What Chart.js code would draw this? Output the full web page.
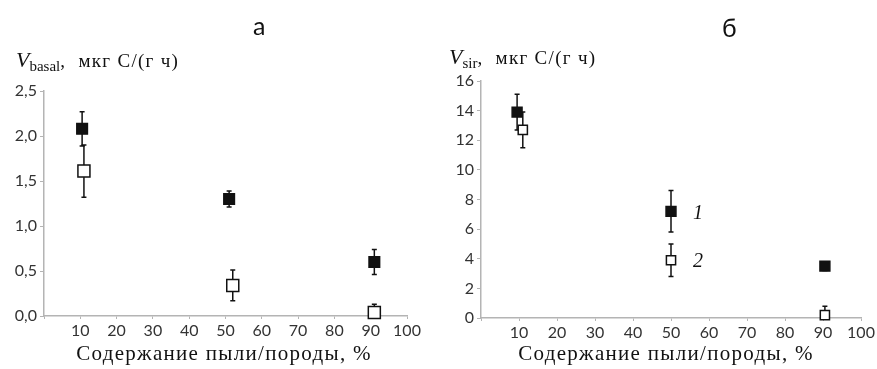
<!DOCTYPE html>
<html>
<head>
<meta charset="utf-8">
<script src="https://cdn.jsdelivr.net/npm/chart.js@4/dist/chart.umd.min.js"></script>
<style>
  body { margin: 0; background: #fff; }
  #wrap { position: relative; width: 877px; height: 369px; overflow: hidden; }
  canvas { position: absolute; top: 0; }
  .letter { position: absolute; font-family: Lato, sans-serif; font-size: 25px; color: #111; }
  .ytitle { position: absolute; font-family: "Liberation Serif", serif; font-size: 19px; letter-spacing: 1.3px; color: #111; white-space: nowrap; }
  .ytitle i { font-size: 22px; letter-spacing: 0; }
  .ytitle sub { font-size: 15px; vertical-align: -4px; letter-spacing: 0; }
  .xtitle { position: absolute; top: 341px; width: 400px; text-align: center; font-family: "Liberation Serif", serif; font-size: 21px; letter-spacing: 1.3px; color: #111; white-space: nowrap; }
</style>
</head>
<body>
<div id="wrap">
  <canvas id="chartA" width="438" height="369" style="left:0"></canvas>
  <canvas id="chartB" width="439" height="369" style="left:438px"></canvas>
  <div class="letter" style="left:253px; top:10px">а</div>
  <div class="letter" style="left:722px; top:12px">б</div>
  <div class="ytitle" style="left:16px; top:47px"><i>V</i><sub>basal</sub>,&nbsp; мкг С/(г ч)</div>
  <div class="ytitle" style="left:449px; top:44px"><i>V</i><sub>sir</sub>,&nbsp; мкг С/(г ч)</div>
  <div class="xtitle" id="xtA" style="left:24px"></div>
  <div class="xtitle" id="xtB" style="left:466px"></div>
</div>
<script>
// ось X: содержание пыли/породы, %
const xTicks = [10, 20, 30, 40, 50, 60, 70, 80, 90, 100];
const xTitle = 'Содержание пыли/породы, %';

// а) базальное дыхание, мкг С/(г ч)
const basalX1 = [10.5, 51, 91];
const basalMean1 = [2.08, 1.30, 0.60];
const basalErr1 = [0.19, 0.09, 0.14];
const basalX2 = [11, 52, 91];
const basalMean2 = [1.61, 0.34, 0.04];
const basalErr2 = [0.29, 0.17, 0.09];
const basalYTicks = ['0,0', '0,5', '1,0', '1,5', '2,0', '2,5'];

// б) субстрат-индуцированное дыхание, мкг С/(г ч)
const sirX1 = [9.5, 50, 90.5];
const sirMean1 = [13.9, 7.2, 3.5];
const sirErr1 = [1.2, 1.4, 0.3];
const sirX2 = [11, 50, 90.5];
const sirMean2 = [12.7, 3.9, 0.2];
const sirErr2 = [1.2, 1.1, 0.6];
const sirYTicks = ['0', '2', '4', '6', '8', '10', '12', '14', '16'];

// номера серий (подписи у точек 50 %)
const seriesLabels = ['1', '2'];

const axisGray = '#b4b4b4';
const tickFont = { family: 'Lato', size: 16 };

// подписи оси X — текстом поверх канвы (нужен межбуквенный интервал)
document.getElementById('xtA').textContent = xTitle;
document.getElementById('xtB').textContent = xTitle;

function toPoints(xs, ys) {
    return xs.map((x, i) => ({ x: x, y: ys[i] }));
}

// рисует усы погрешностей через шкалы графика
const errorBarsPlugin = {
    id: 'errorBars',
    beforeDatasetsDraw(chart, args, opts) {
        const ctx = chart.ctx;
        const xs = chart.scales.x, ys = chart.scales.y;
        ctx.save();
        ctx.strokeStyle = '#111';
        ctx.lineWidth = 1.5;
        chart.data.datasets.forEach(ds => {
            ds.data.forEach((p, i) => {
                const e = ds.errors[i];
                const px = xs.getPixelForValue(p.x);
                const top = ys.getPixelForValue(p.y + e);
                const bot = ys.getPixelForValue(Math.max(p.y - e, 0));
                ctx.beginPath();
                ctx.moveTo(px, top); ctx.lineTo(px, bot);
                ctx.moveTo(px - 2.5, top); ctx.lineTo(px + 2.5, top);
                if (p.y - e > 0) { ctx.moveTo(px - 2.5, bot); ctx.lineTo(px + 2.5, bot); }
                ctx.stroke();
            });
        });
        ctx.restore();
    },
    afterDatasetsDraw(chart, args, opts) {
        if (!opts.labels) return;
        const ctx = chart.ctx;
        ctx.save();
        ctx.fillStyle = '#111';
        ctx.font = 'italic 20px "Liberation Serif"';
        ctx.textBaseline = 'middle';
        chart.data.datasets.forEach((ds, k) => {
            const p = ds.data[1];
            ctx.fillText(opts.labels[k], chart.scales.x.getPixelForValue(p.x) + 22,
                chart.scales.y.getPixelForValue(p.y) + 2);
        });
        ctx.restore();
    }
};

function makeChart(id, sets, yMax, yStep, yLabels, box, labels) {
    const ctx = document.getElementById(id).getContext('2d');
    return new Chart(ctx, {
        type: 'scatter',
        data: {
            datasets: sets.map(s => ({
                data: toPoints(s.x, s.y),
                errors: s.err,
                pointStyle: 'rect',
                pointRadius: s.r,
                pointHoverRadius: s.r,
                backgroundColor: s.fill,
                borderColor: '#111',
                borderWidth: 1.5,
                clip: false
            }))
        },
        options: {
            responsive: false,
            animation: false,
            events: [],
            layout: { autoPadding: false, padding: { left: 0, top: box.top, right: box.right, bottom: 0 } },
            plugins: {
                legend: { display: false },
                tooltip: { enabled: false },
                errorBars: { labels: labels }
            },
            scales: {
                x: {
                    type: 'linear', min: 0, max: 100,
                    afterFit: s => { s.height = box.xh; },
                    afterBuildTicks: s => { s.ticks = [0].concat(xTicks).map(v => ({ value: v })); },
                    ticks: {
                        font: tickFont, color: '#333', padding: 2, maxRotation: 0,
                        callback: v => (v === 0 ? '' : v)
                    },
                    grid: { drawOnChartArea: false, color: axisGray, tickLength: 3 },
                    border: { color: axisGray, width: 1.5 }
                },
                y: {
                    type: 'linear', min: 0, max: yMax,
                    afterFit: s => { s.width = box.yw; },
                    ticks: {
                        stepSize: yStep, font: tickFont, color: '#333', padding: 3,
                        callback: (v, i) => yLabels[i]
                    },
                    grid: { drawOnChartArea: false, color: axisGray, tickLength: 4 },
                    border: { color: axisGray, width: 1.5 }
                }
            }
        },
        plugins: [errorBarsPlugin]
    });
}

makeChart('chartA', [
    { x: basalX1, y: basalMean1, err: basalErr1, fill: '#111', r: 7.5 },
    { x: basalX2, y: basalMean2, err: basalErr2, fill: '#fff', r: 8.5 }
], 2.5, 0.5, basalYTicks, { top: 91, right: 31, xh: 53, yw: 44 }, null);

makeChart('chartB', [
    { x: sirX1, y: sirMean1, err: sirErr1, fill: '#111', r: 7 },
    { x: sirX2, y: sirMean2, err: sirErr2, fill: '#fff', r: 6.5 }
], 16, 2, sirYTicks, { top: 81, right: 16, xh: 51, yw: 43 }, seriesLabels);
</script>
</body>
</html>
